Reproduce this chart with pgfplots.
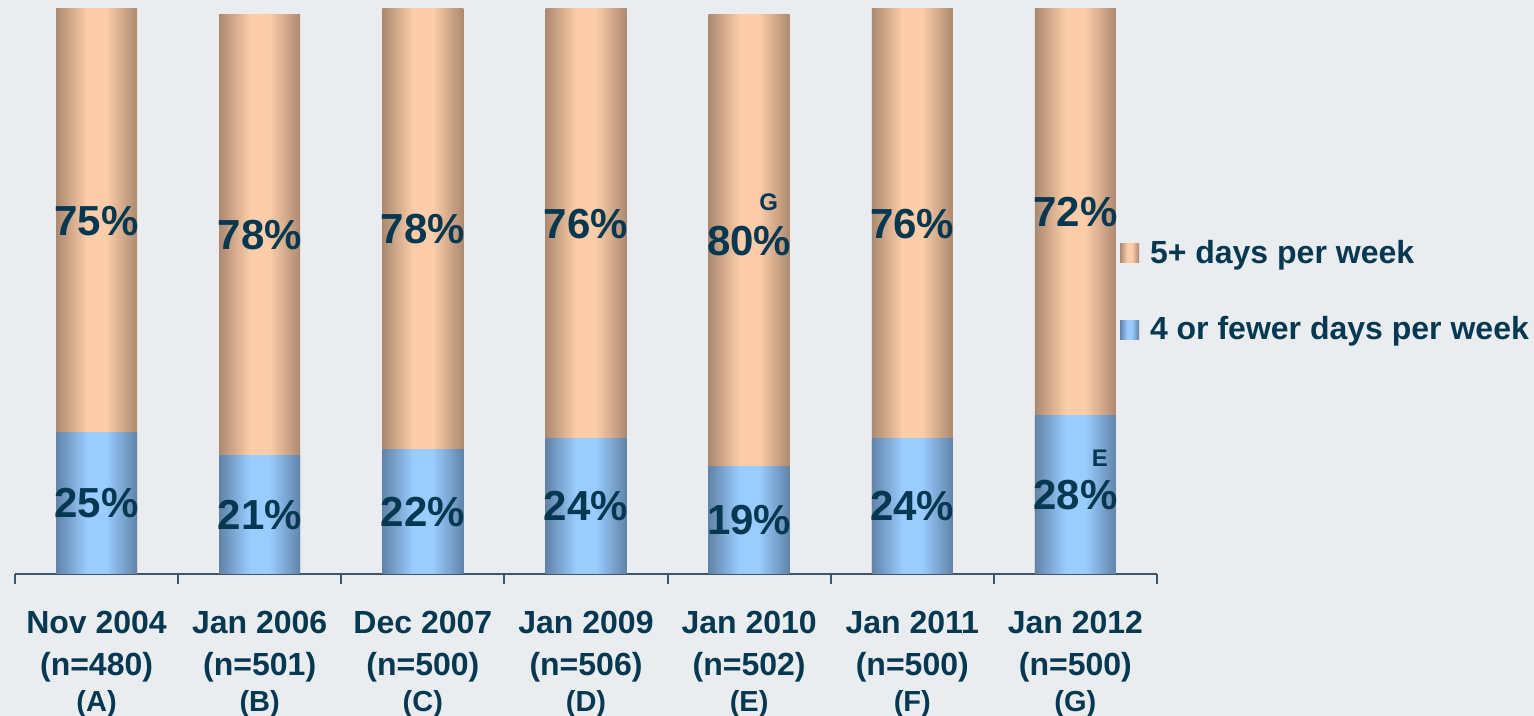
\documentclass[border=0pt]{standalone}
\usepackage{fontspec}
\setmainfont{Liberation Sans}
\usepackage{pgfplots}
\usepackage{pgfplotstable}
\pgfplotsset{compat=1.18}

\definecolor{BgColor}{RGB}{233,237,239}
\definecolor{InkColor}{RGB}{6,56,82}
\definecolor{AxisColor}{RGB}{60,85,105}
\definecolor{PeachLight}{RGB}{252,205,168}
\definecolor{PeachDark}{RGB}{172,137,112}
\definecolor{BlueLight}{RGB}{153,204,255}
\definecolor{BlueDark}{RGB}{97,131,168}

% dark edges, light band a little left of the middle
\pgfdeclarehorizontalshading{peachbar}{100bp}{color(0bp)=(PeachDark); color(25bp)=(PeachDark); color(44bp)=(PeachLight); color(56bp)=(PeachLight); color(75bp)=(PeachDark); color(100bp)=(PeachDark)}
\pgfdeclarehorizontalshading{bluebar}{100bp}{color(0bp)=(BlueDark); color(25bp)=(BlueDark); color(44bp)=(BlueLight); color(56bp)=(BlueLight); color(75bp)=(BlueDark); color(100bp)=(BlueDark)}

% x = survey wave, blue = 4 or fewer days, peach = 5+ days
\pgfplotstableread{
x blue peach
0 25 75
1 21 78
2 22 78
3 24 76
4 19 80
5 24 76
6 28 72
}\surveydata

\newcommand{\wave}[1]{\\[-3pt]{\fontsize{14.5}{16}\selectfont\bfseries #1}}

\pgfplotsset{
    onebar/.style={
        ybar, bar shift=0pt, bar width=40.5pt,
        draw=none, forget plot,
        restrict x to domain=#1:#1,
    },
    pct/.style={
        only marks, mark=none,
        point meta=explicit symbolic,
        nodes near coords,
        nodes near coords align=center,
        every node near coord/.append style={
            anchor=center, text=InkColor, inner sep=0pt,
            font=\fontsize{21}{24}\selectfont\bfseries},
    },
}

\begin{document}
\begin{tikzpicture}
\path[use as bounding box, fill=BgColor] (-7.5pt,-71pt) rectangle (759.5pt,287pt);

\begin{axis}[
    scale only axis,
    width=571pt, height=282.5pt,
    xmin=-0.5, xmax=6.5,
    ymin=0, ymax=100,
    clip=false,
    axis x line*=bottom,
    axis y line=none,
    axis line style={AxisColor, line width=1pt},
    xtick={0,...,6},
    xticklabels={
        {Nov 2004\\(n=480)\wave{(A)}},
        {Jan 2006\\(n=501)\wave{(B)}},
        {Dec 2007\\(n=500)\wave{(C)}},
        {Jan 2009\\(n=506)\wave{(D)}},
        {Jan 2010\\(n=502)\wave{(E)}},
        {Jan 2011\\(n=500)\wave{(F)}},
        {Jan 2012\\(n=500)\wave{(G)}}},
    major tick length=0pt,
    minor xtick={-0.5,0.5,...,6.5},
    minor tick length=5pt,
    tick align=outside,
    minor tick style={AxisColor, line width=1pt},
    xticklabel style={align=center, text=InkColor,
        font=\fontsize{16}{21}\selectfont\bfseries, yshift=-15pt},
    legend cell align=left,
    legend style={at={(0.962,0.5)}, anchor=west, draw=none, fill=none,
        text=InkColor, font=\fontsize{16}{20}\selectfont\bfseries,
        row sep=21pt},
    legend image code/.code={
        \fill[#1] (0pt,-4.75pt) rectangle (9.5pt,4.75pt);
        \path (0pt,0pt) -- (13pt,0pt);},
]
% one plot per bar so that each bar gets its own shading
\pgfplotsinvokeforeach{0,...,6}{
    \addplot[onebar=#1, shading=peachbar]
        table[x=x, y expr=\thisrow{blue}+\thisrow{peach}] {\surveydata};
    \addplot[onebar=#1, shading=bluebar]
        table[x=x, y=blue] {\surveydata};
}
\addlegendimage{draw=none, shading=peachbar}
\addlegendentry{5+ days per week}
\addlegendimage{draw=none, shading=bluebar}
\addlegendentry{4 or fewer days per week}

% labels, centred in each segment
\addplot[pct] coordinates {
    (0,12.5) [25\%] (1,10.5) [21\%] (2,11) [22\%] (3,12) [24\%]
    (4,9.5) [19\%] (5,12) [24\%] (6,14) [28\%]
    (0,62.5) [75\%] (1,60) [78\%] (2,61) [78\%] (3,62) [76\%]
    (4,59) [80\%] (5,62) [76\%] (6,64) [72\%]};
\addplot[pct, every node near coord/.append style={font=\fontsize{12}{14}\selectfont\bfseries}]
    coordinates {(4.12,65.8) [G] (6.15,20.5) [E]};
\end{axis}
\end{tikzpicture}
\end{document}
